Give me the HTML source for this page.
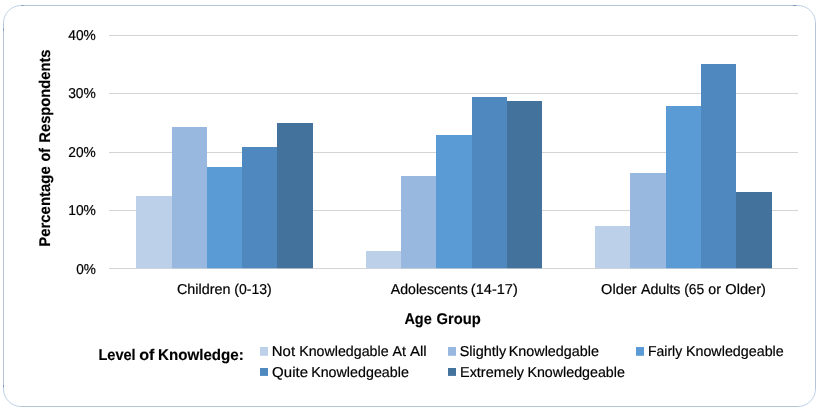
<!DOCTYPE html>
<html lang="en">
<head>
<meta charset="utf-8">
<title>Level of Knowledge by Age Group</title>
<style>
  html, body { margin: 0; padding: 0; background: #ffffff; }
  body { width: 818px; height: 410px; overflow: hidden; }
  svg { display: block; }
  text { font-family: "Liberation Sans", sans-serif; text-rendering: geometricPrecision; fill: #000; stroke: #000; stroke-width: 0.2px; }
  .b { font-weight: bold; stroke-width: 0.15px; }
</style>
</head>
<body>
<svg width="818" height="410" viewBox="0 0 818 410">
<rect x="0" y="0" width="818" height="410" fill="#ffffff"/>
<rect x="3.5" y="5.5" width="812.0" height="401.0" rx="17.5" ry="17.5" fill="#ffffff" stroke="#a9c0e2" stroke-opacity="0.75" stroke-width="1"/>
<path d="M21.0 5.5H798.0M815.5 23.0V389.0M798.0 406.5H21.0M3.5 389.0V23.0" fill="none" stroke="#b4c5d6" stroke-width="1"/>
<rect x="21.5" y="5" width="2" height="1" fill="#6d8bb3" opacity="0.8"/>
<rect x="3" y="28.5" width="1" height="2" fill="#6d8bb3" opacity="0.8"/>
<rect x="793" y="5" width="3" height="1" fill="#6d8bb3" opacity="0.8"/>
<rect x="3" y="385" width="1" height="2" fill="#6d8bb3" opacity="0.8"/>
<rect x="109" y="35" width="689" height="1" fill="#d4d4d4"/>
<rect x="109" y="93" width="689" height="1" fill="#d4d4d4"/>
<rect x="109" y="152" width="689" height="1" fill="#d4d4d4"/>
<rect x="109" y="210" width="689" height="1" fill="#d4d4d4"/>
<rect x="109" y="268" width="689" height="1" fill="#d4d4d4"/>
<rect x="136" y="196" width="36" height="72.3" fill="#bdd0e9"/>
<rect x="172" y="127" width="35" height="141.3" fill="#98b8df"/>
<rect x="207" y="167" width="35" height="101.3" fill="#5b9bd5"/>
<rect x="242" y="147" width="35" height="121.3" fill="#4e88be"/>
<rect x="277" y="123" width="36" height="145.3" fill="#43729d"/>
<rect x="366" y="251" width="35" height="17.3" fill="#bdd0e9"/>
<rect x="401" y="176" width="35" height="92.3" fill="#98b8df"/>
<rect x="436" y="135" width="36" height="133.3" fill="#5b9bd5"/>
<rect x="472" y="97" width="35" height="171.3" fill="#4e88be"/>
<rect x="507" y="101" width="35" height="167.3" fill="#43729d"/>
<rect x="595" y="226" width="35" height="42.3" fill="#bdd0e9"/>
<rect x="630" y="173" width="36" height="95.3" fill="#98b8df"/>
<rect x="666" y="106" width="35" height="162.3" fill="#5b9bd5"/>
<rect x="701" y="64" width="35" height="204.3" fill="#4e88be"/>
<rect x="736" y="192" width="36" height="76.3" fill="#43729d"/>
<rect x="260" y="347" width="8" height="8.8" fill="#bdd0e9"/>
<rect x="448" y="347" width="8" height="8.8" fill="#98b8df"/>
<rect x="636" y="347" width="8" height="8.8" fill="#5b9bd5"/>
<rect x="260" y="368" width="8" height="7.9" fill="#4e88be"/>
<rect x="448" y="368" width="8" height="7.9" fill="#43729d"/>
<text y="40" font-size="14.3"><tspan x="68.30" textLength="27.53" lengthAdjust="spacingAndGlyphs">40%</tspan></text>
<text y="98" font-size="14.3"><tspan x="68.16" textLength="27.71" lengthAdjust="spacingAndGlyphs">30%</tspan></text>
<text y="157" font-size="14.3"><tspan x="68.35" textLength="27.49" lengthAdjust="spacingAndGlyphs">20%</tspan></text>
<text y="215" font-size="14.3"><tspan x="68.20" textLength="27.69" lengthAdjust="spacingAndGlyphs">10%</tspan></text>
<text y="274" font-size="14.3"><tspan x="76.14" textLength="19.66" lengthAdjust="spacingAndGlyphs">0%</tspan></text>
<text y="294" font-size="14.3"><tspan x="176.98" textLength="53.41" lengthAdjust="spacingAndGlyphs">Children</tspan> <tspan x="234.25" textLength="37.50" lengthAdjust="spacingAndGlyphs">(0-13)</tspan></text>
<text y="294" font-size="14.3"><tspan x="390.85" textLength="76.84" lengthAdjust="spacingAndGlyphs">Adolescents</tspan> <tspan x="470.87" textLength="46.88" lengthAdjust="spacingAndGlyphs">(14-17)</tspan></text>
<text y="294" font-size="14.3"><tspan x="601.14" textLength="35.55" lengthAdjust="spacingAndGlyphs">Older</tspan> <tspan x="640.89" textLength="39.63" lengthAdjust="spacingAndGlyphs">Adults</tspan> <tspan x="684.13" textLength="19.98" lengthAdjust="spacingAndGlyphs">(65</tspan> <tspan x="708.28" textLength="12.65" lengthAdjust="spacingAndGlyphs">or</tspan> <tspan x="725.38" textLength="40.56" lengthAdjust="spacingAndGlyphs">Older)</tspan></text>
<text y="324" font-size="15.5" class="b"><tspan x="404.39" textLength="27.31" lengthAdjust="spacingAndGlyphs">Age</tspan> <tspan x="436.43" textLength="44.23" lengthAdjust="spacingAndGlyphs">Group</tspan></text>
<text y="360" font-size="15.5" class="b"><tspan x="98.38" textLength="37.28" lengthAdjust="spacingAndGlyphs">Level</tspan> <tspan x="139.26" textLength="15.22" lengthAdjust="spacingAndGlyphs">of</tspan> <tspan x="158.07" textLength="85.63" lengthAdjust="spacingAndGlyphs">Knowledge:</tspan></text>
<text y="356" font-size="14.3"><tspan x="271.81" textLength="23.23" lengthAdjust="spacingAndGlyphs">Not</tspan> <tspan x="299.19" textLength="89.39" lengthAdjust="spacingAndGlyphs">Knowledgable</tspan> <tspan x="392.59" textLength="13.43" lengthAdjust="spacingAndGlyphs">At</tspan> <tspan x="409.90" textLength="16.76" lengthAdjust="spacingAndGlyphs">All</tspan></text>
<text y="356" font-size="14.3"><tspan x="459.65" textLength="46.53" lengthAdjust="spacingAndGlyphs">Slightly</tspan> <tspan x="508.77" textLength="90.17" lengthAdjust="spacingAndGlyphs">Knowledgable</tspan></text>
<text y="356" font-size="14.3"><tspan x="648.00" textLength="34.24" lengthAdjust="spacingAndGlyphs">Fairly</tspan> <tspan x="685.91" textLength="97.86" lengthAdjust="spacingAndGlyphs">Knowledgeable</tspan></text>
<text y="377" font-size="14.3"><tspan x="272.14" textLength="35.85" lengthAdjust="spacingAndGlyphs">Quite</tspan> <tspan x="311.15" textLength="97.70" lengthAdjust="spacingAndGlyphs">Knowledgeable</tspan></text>
<text y="377" font-size="14.3"><tspan x="460.08" textLength="63.99" lengthAdjust="spacingAndGlyphs">Extremely</tspan> <tspan x="527.38" textLength="97.51" lengthAdjust="spacingAndGlyphs">Knowledgeable</tspan></text>
<text transform="translate(49.8 250.0) rotate(-90)" y="0" font-size="15.5" class="b"><tspan x="3.27" textLength="80.45" lengthAdjust="spacingAndGlyphs">Percentage</tspan> <tspan x="88.54" textLength="13.46" lengthAdjust="spacingAndGlyphs">of</tspan> <tspan x="107.36" textLength="93.15" lengthAdjust="spacingAndGlyphs">Respondents</tspan></text>
</svg>
</body>
</html>
